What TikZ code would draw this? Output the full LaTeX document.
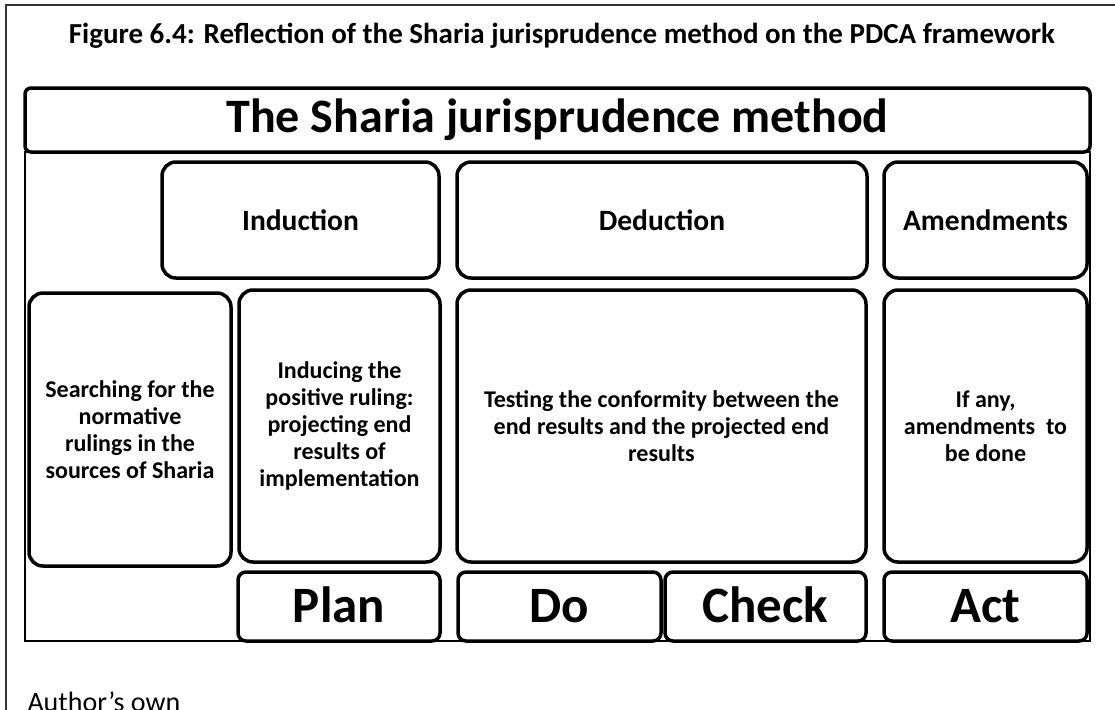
\documentclass[tikz,border=0pt]{standalone}
\usepackage{fontspec}
\setmainfont{Carlito}
\begin{document}
\begin{tikzpicture}[x=1pt, y=-1pt,
        stage/.style={draw, line width=3.5pt, rounded corners=14pt, align=center, inner sep=2pt,
                      font=\bfseries\fontsize{24}{27}\selectfont},
        head/.style={stage, minimum height=116pt, font=\bfseries\fontsize{29.5}{32}\selectfont},
        phase/.style={draw, line width=3.5pt, rounded corners=8pt, fill=white, inner sep=0pt,
                      minimum height=69pt, text height=32pt, text depth=0pt,
                      font=\bfseries\fontsize{51}{56}\selectfont}]
    \useasboundingbox (0,0) rectangle (1115,709);
    \clip (0,0) rectangle (1115,709);

    % frames
    \draw[line width=1.5pt, black!80] (6,5) rectangle (1140,740);
    \draw[line width=1.5pt] (25,152) rectangle (1090,641);

    \node[anchor=base, font=\bfseries\fontsize{29}{32}\selectfont] (title) at (562,44)
        {Figure 6.4: Reflection of the Sharia jurisprudence method on the PDCA framework};

    \node[draw, line width=3.5pt, rounded corners=6pt, fill=white, minimum width=1065pt, minimum height=64pt,
          font=\bfseries\fontsize{48}{56}\selectfont] (method) at (557.5,120) {The Sharia jurisprudence method};

    % top row
    \node[head, minimum width=277pt] (induction) at (300.5,220) {Induction};
    \node[head, minimum width=410pt] (deduction) at (662.0,220) {Deduction};
    \node[head, minimum width=203pt] (amend)     at (985.5,220) {Amendments};

    % middle row
    \node[stage, minimum width=202pt, minimum height=273pt] (search) at (130.0,429.5)
        {Searching for the\\normative\\rulings in the\\sources of Sharia};
    \node[stage, minimum width=201pt, minimum height=272pt] (induce) at (339.5,426)
        {Inducing the\\positive ruling:\\projecting end\\results of\\implementation};
    \node[stage, minimum width=409pt, minimum height=272pt] (test)   at (661.5,426)
        {Testing the conformity between the\\end results and the projected end\\results};
    \node[stage, minimum width=203pt, minimum height=272pt] (ifany)  at (985.5,426)
        {If any,\\amendments~ to\\be done};

    % PDCA row
    \node[phase, minimum width=202pt] (plan)  at (339.0,606.5) {Plan};
    \node[phase, minimum width=203pt] (do)    at (559.5,606.5) {Do};
    \node[phase, minimum width=201pt] (check) at (765.5,606.5) {Check};
    \node[phase, minimum width=203pt] (act)   at (985.5,606.5) {Act};

    \node[anchor=base west, font=\fontsize{28}{32}\selectfont] (source) at (24,711) {Author’s own};
\end{tikzpicture}
\end{document}
